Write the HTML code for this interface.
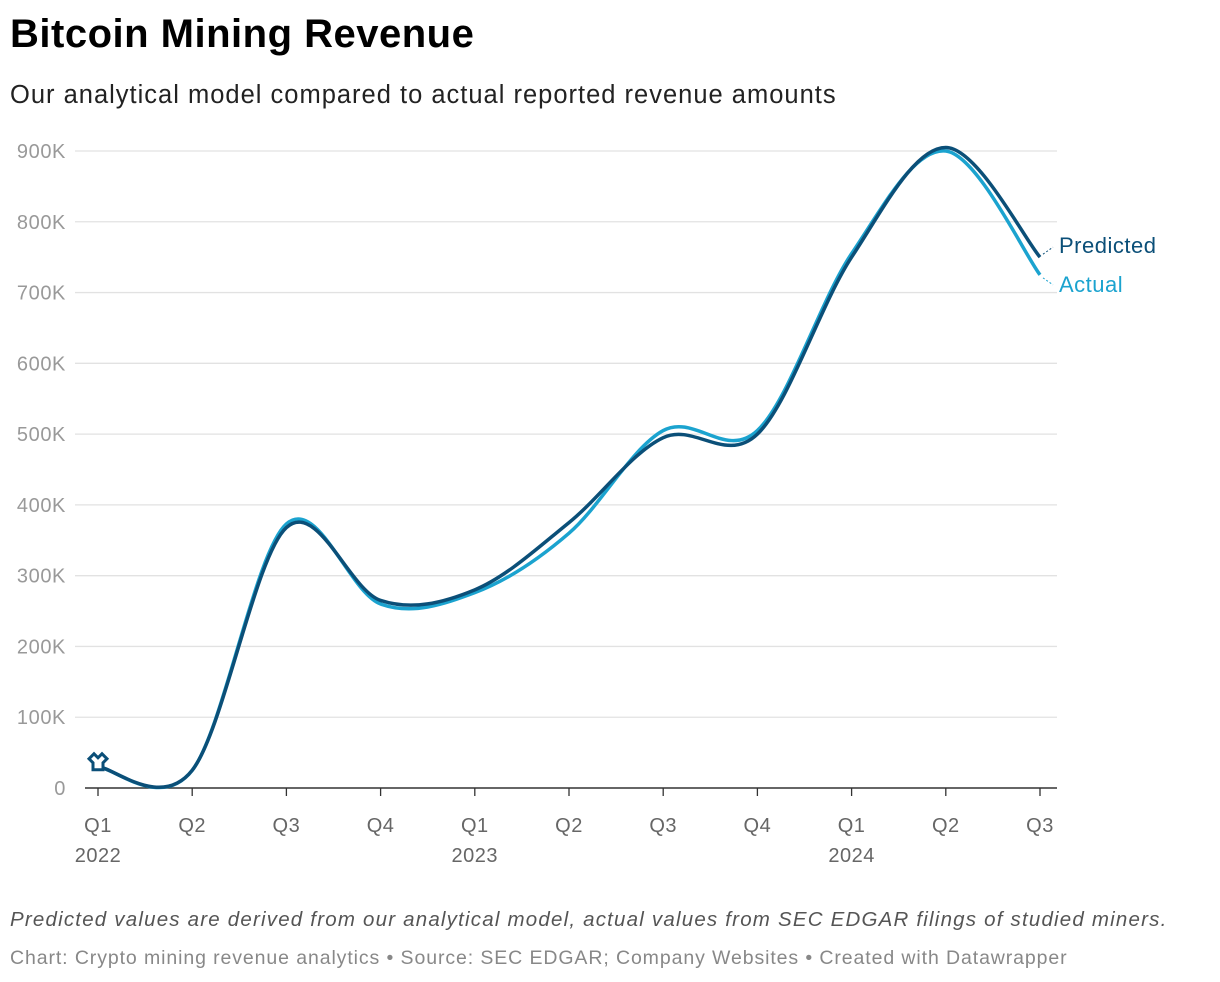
<!DOCTYPE html>
<html><head><meta charset="utf-8"><style>
body{margin:0;background:#fff;font-family:"Liberation Sans",sans-serif;width:1220px;height:982px;overflow:hidden;position:relative}
.t{position:absolute;left:10px;white-space:nowrap}
</style></head><body>
<div class="t" style="top:12px;font-size:40px;font-weight:bold;color:#000;letter-spacing:0.5px">Bitcoin Mining Revenue</div>
<div class="t" style="top:81px;font-size:25.5px;color:#222;letter-spacing:1.0px">Our analytical model compared to actual reported revenue amounts</div>
<svg id="chart" width="1220" height="880" style="position:absolute;left:0;top:0"></svg>
<div class="t" style="top:908px;font-size:20.5px;font-style:italic;color:#555;letter-spacing:1.2px">Predicted values are derived from our analytical model, actual values from SEC EDGAR filings of studied miners.</div>
<div class="t" style="top:947px;font-size:19.5px;color:#888;letter-spacing:0.9px">Chart: Crypto mining revenue analytics • Source: SEC EDGAR; Company Websites • Created with Datawrapper</div>
<script>
const quarters=["Q1","Q2","Q3","Q4","Q1","Q2","Q3","Q4","Q1","Q2","Q3"];
const years=["2022","","","","2023","","","","2024","",""];
const predicted=[30000,25000,368000,265000,280000,375000,495000,500000,750000,905000,750000];
const actual=[30000,25000,373000,260000,276000,360000,505000,505000,755000,900000,725000];
const yTicks=[0,100000,200000,300000,400000,500000,600000,700000,800000,900000];
const yTickLabels=["0","100K","200K","300K","400K","500K","600K","700K","800K","900K"];
const ns="http://www.w3.org/2000/svg";
const svg=document.getElementById('chart');
const x=i=>98+i*94.2;
const y=v=>788-v*(637/900000);
function el(t,a){const e=document.createElementNS(ns,t);for(const k in a)e.setAttribute(k,a[k]);svg.appendChild(e);return e;}
yTicks.forEach((v,i)=>{
 if(v>0){const g=el('line',{x1:75,x2:1057,y1:y(v),y2:y(v),stroke:'#e2e2e2','stroke-width':1.3});
 
 }
 const t=el('text',{x:66,y:y(v)+7,'text-anchor':'end','font-size':20,fill:'#999','letter-spacing':0.6});t.textContent=yTickLabels[i];
 
 
});
const base=el('line',{x1:85,x2:1057,y1:788,y2:788,stroke:'#333','stroke-width':1.5});


quarters.forEach((q,i)=>{
 el('line',{x1:x(i),x2:x(i),y1:788,y2:796,stroke:'#333','stroke-width':1.3});
 const t=el('text',{x:x(i),y:832,'text-anchor':'middle','font-size':20,fill:'#666','letter-spacing':0.5});t.textContent=q;
 
 
 if(years[i]){const yt=el('text',{x:x(i),y:862,'text-anchor':'middle','font-size':20,fill:'#666','letter-spacing':0.5});yt.textContent=years[i];
 
 }
});
function path(vals){
 const p=vals.map((v,i)=>[x(i),y(v)]);
 let d=`M${p[0][0]},${p[0][1]}`;
 for(let i=0;i<p.length-1;i++){
  const p0=p[i-1]||p[i],p1=p[i],p2=p[i+1],p3=p[i+2]||p[i+1];
  const c1=[p1[0]+(p2[0]-p0[0])/6,p1[1]+(p2[1]-p0[1])/6];
  const c2=[p2[0]-(p3[0]-p1[0])/6,p2[1]-(p3[1]-p1[1])/6];
  d+=`C${c1[0]},${c1[1]} ${c2[0]},${c2[1]} ${p2[0]},${p2[1]}`;
 }
 return d;
}
const la=el('path',{d:path(actual),fill:'none',stroke:'#1ba3cf','stroke-width':3.5});


const lp=el('path',{d:path(predicted),fill:'none',stroke:'#0b4f78','stroke-width':3.5});


const n=predicted.length-1;
el('line',{x1:x(n)+3,y1:y(predicted[n])-3,x2:x(n)+13,y2:y(predicted[n])-10,stroke:'#0b4f78','stroke-dasharray':'2,2'});
el('line',{x1:x(n)+3,y1:y(actual[n])+3,x2:x(n)+13,y2:y(actual[n])+10,stroke:'#1ba3cf','stroke-dasharray':'2,2'});
const lbP=el('text',{x:1059,y:y(predicted[n])-4,'font-size':22,fill:'#0b4f78','letter-spacing':0.5});lbP.textContent='Predicted';


const lbA=el('text',{x:1059,y:y(actual[n])+17,'font-size':22,fill:'#1ba3cf','letter-spacing':0.5});lbA.textContent='Actual';


const mk=el('path',{d:`M${x(0)-9},${y(predicted[0])-8} l5,-5 l4,4 l4,-4 l5,5 l-4,4 v7 h-10 v-7 z`,fill:'#fff',stroke:'#0b4f78','stroke-width':3});


</script>
</body></html>
